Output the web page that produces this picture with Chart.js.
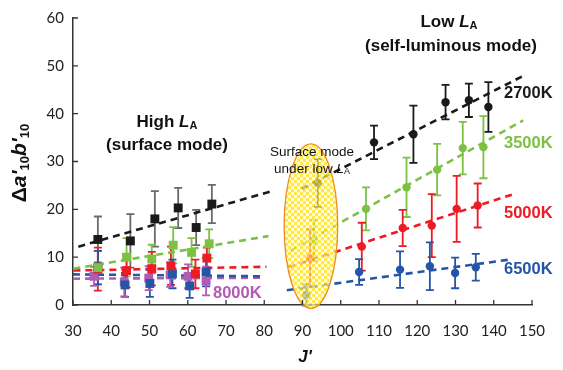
<!DOCTYPE html>
<html>
<head>
<meta charset="utf-8">
<script src="https://cdn.jsdelivr.net/npm/chart.js@4.4.0/dist/chart.umd.min.js"></script>
<style>
  html, body { margin: 0; padding: 0; background: #fff; }
</style>
</head>
<body>
<canvas id="myChart" width="563" height="370"></canvas>
<script>
// ticks des axes
const xTicks = [30, 40, 50, 60, 70, 80, 90, 100, 110, 120, 130, 140, 150];
const yTicks = [0, 10, 20, 30, 40, 50, 60];

// High LA (surface mode) - carrés
const hi2700J = [36.5, 45, 51.4, 57.5, 62.2, 66.3];
const hi2700Y = [13.7, 13.4, 18.0, 20.3, 16.2, 21.1];
const hi2700E = [4.8, 5.6, 5.8, 4.2, 3.7, 4.0];

const hi3500J = [36.5, 44, 50.6, 56.2, 61, 65.6];
const hi3500Y = [7.8, 10.0, 9.6, 12.5, 11.0, 12.8];
const hi3500E = [3.5, 4.0, 3.0, 3.8, 3.0, 3.0];

const hi5000J = [36.5, 44, 50.6, 55.6, 62, 65];
const hi5000Y = [7.5, 7.2, 7.6, 8.2, 6.5, 9.8];
const hi5000E = [4.5, 3.5, 3.5, 4.0, 3.0, 2.2];

const hi6500J = [36.5, 43.6, 50.1, 56, 60.5, 64.8];
const hi6500Y = [7.8, 4.2, 4.5, 6.5, 4.0, 6.9];
const hi6500E = [3.5, 2.5, 2.8, 3.0, 2.5, 3.0];

const hi8000J = [35.5, 43.4, 49.8, 55.4, 60.1, 64.8];
const hi8000Y = [6.0, 4.8, 5.6, 6.3, 6.0, 5.0];
const hi8000E = [2.0, 3.0, 2.5, 2.5, 2.5, 3.0];

// Low LA (self-luminous mode) - cercles
const lo2700J = [94, 108.7, 119, 127.4, 133.5, 138.6];
const lo2700Y = [25.5, 34.0, 35.7, 42.4, 42.8, 41.4];
const lo2700E = [5.0, 3.5, 6.0, 3.6, 3.5, 5.2];

const lo3500J = [93, 106.6, 117.2, 125.2, 131.9, 137.3];
const lo3500Y = [13.5, 20.1, 24.6, 28.3, 32.8, 33.0];
const lo3500E = [4.3, 4.5, 6.2, 5.4, 5.5, 6.5];

const lo5000J = [92, 105.5, 116.2, 123.8, 130.3, 135.8];
const lo5000Y = [9.8, 12.2, 16.1, 16.6, 20.1, 20.8];
const lo5000E = [6.0, 5.0, 3.8, 6.6, 6.9, 4.6];

const lo6500J = [91, 104.8, 115.5, 123.3, 129.9, 135.3];
const lo6500Y = [2.1, 6.9, 7.4, 8.1, 6.7, 7.9];
const lo6500E = [2.2, 2.7, 3.8, 5.0, 3.2, 2.8];

// droites de tendance (extrémités)
const trend2700Hi = [[31.4, 12.2], [81.5, 23.7]];
const trend2700Lo = [[89.8, 24.3], [147.7, 47.9]];
const trend3500Hi = [[30.1, 7.6], [81.1, 14.4]];
const trend3500Lo = [[86.7, 11.3], [147.7, 38.6]];
const trend5000Hi = [[30.1, 7.2], [80.6, 8.0]];
const trend5000Lo = [[86.3, 7.9], [146, 23.4]];
const trend6500Hi = [[30, 6.4], [80, 6.0]];
const trend6500Lo = [[85.9, 3.1], [144.2, 9.5]];
const trend8000Hi = [[30, 5.5], [80, 5.7]];

// zone "surface mode under low LA" (centre J, centre y, demi-axes)
const ellipseZone = [92.2, 16.5, 7.0, 17.2];

const BLACK = '#1a1a1a', GREEN = '#7cc142', RED = '#ed1c24', BLUE = '#2356a8', PURPLE = '#b15bb5';

const series = [
    { j: hi2700J, y: hi2700Y, e: hi2700E, color: BLACK, bar: '#6a6a6a', style: 'rect' },
    { j: hi3500J, y: hi3500Y, e: hi3500E, color: GREEN, bar: GREEN, style: 'rect' },
    { j: hi5000J, y: hi5000Y, e: hi5000E, color: RED, bar: RED, style: 'rect' },
    { j: hi6500J, y: hi6500Y, e: hi6500E, color: BLUE, bar: BLUE, style: 'rect' },
    { j: hi8000J, y: hi8000Y, e: hi8000E, color: PURPLE, bar: PURPLE, style: 'rect' },
    { j: lo2700J, y: lo2700Y, e: lo2700E, color: BLACK, bar: BLACK, style: 'circle' },
    { j: lo3500J, y: lo3500Y, e: lo3500E, color: GREEN, bar: GREEN, style: 'circle' },
    { j: lo5000J, y: lo5000Y, e: lo5000E, color: RED, bar: RED, style: 'circle' },
    { j: lo6500J, y: lo6500Y, e: lo6500E, color: BLUE, bar: BLUE, style: 'circle' }
];

const trends = [
    [trend2700Hi, BLACK], [trend2700Lo, BLACK],
    [trend3500Hi, GREEN], [trend3500Lo, GREEN],
    [trend5000Hi, RED], [trend5000Lo, RED],
    [trend6500Hi, BLUE], [trend6500Lo, BLUE],
    [trend8000Hi, PURPLE]
];

let datasets = [];
series.forEach(s => {
    datasets.push({
        type: 'scatter',
        data: s.j.map((v, i) => ({ x: v, y: s.y[i] })),
        pointStyle: s.style,
        pointRadius: s.style === 'rect' ? 6.3 : 4.2,
        backgroundColor: s.color,
        borderColor: s.color,
        borderWidth: 0,
        order: 1
    });
});
trends.forEach(t => {
    datasets.push({
        type: 'line',
        data: t[0].map(p => ({ x: p[0], y: p[1] })),
        borderColor: t[1],
        borderWidth: 2.6,
        borderDash: [7, 5],
        pointRadius: 0,
        fill: false,
        order: 2
    });
});

// motif en damier jaune pour l'ellipse
function makePattern(ctx) {
    const c = document.createElement('canvas');
    c.width = 6; c.height = 6;
    const p = c.getContext('2d');
    p.fillStyle = '#fffbd0';
    p.fillRect(0, 0, 6, 6);
    p.fillStyle = '#ffe000';
    p.fillRect(0, 0, 3, 3);
    p.fillRect(3, 3, 3, 3);
    return ctx.createPattern(c, 'repeat');
}

// texte avec indice (morceaux: [texte, police, decalage y])
function drawPieces(ctx, pieces, cx, cy) {
    let total = 0;
    pieces.forEach(p => { ctx.font = p[1]; total += ctx.measureText(p[0]).width; });
    let x = cx - total / 2;
    ctx.textAlign = 'left';
    ctx.textBaseline = 'middle';
    pieces.forEach(p => {
        ctx.font = p[1];
        ctx.fillText(p[0], x, cy + (p[2] || 0));
        x += ctx.measureText(p[0]).width;
    });
}

const extras = {
    id: 'extras',
    beforeDatasetsDraw(chart) {
        const ctx = chart.ctx;
        const xs = chart.scales.x, ys = chart.scales.y;
        // barres d'erreur
        ctx.save();
        series.forEach(s => {
            ctx.strokeStyle = s.bar;
            ctx.lineWidth = 1.8;
            s.j.forEach((v, i) => {
                const px = xs.getPixelForValue(v);
                const top = ys.getPixelForValue(s.y[i] + s.e[i]);
                const bot = ys.getPixelForValue(s.y[i] - s.e[i]);
                ctx.beginPath();
                ctx.moveTo(px, top); ctx.lineTo(px, bot);
                ctx.moveTo(px - 4, top); ctx.lineTo(px + 4, top);
                ctx.moveTo(px - 4, bot); ctx.lineTo(px + 4, bot);
                ctx.stroke();
            });
        });
        ctx.restore();
    },
    afterDatasetsDraw(chart) {
        const ctx = chart.ctx;
        const xs = chart.scales.x, ys = chart.scales.y;
        const area = chart.chartArea;

        // ellipse
        const cx = xs.getPixelForValue(ellipseZone[0]);
        const cy = ys.getPixelForValue(ellipseZone[1]);
        const rx = xs.getPixelForValue(ellipseZone[0] + ellipseZone[2]) - cx;
        const ry = cy - ys.getPixelForValue(ellipseZone[1] + ellipseZone[3]);
        ctx.save();
        ctx.beginPath();
        ctx.ellipse(cx, cy, rx, ry, 0, 0, Math.PI * 2);
        ctx.globalAlpha = 0.72;
        ctx.fillStyle = makePattern(ctx);
        ctx.fill();
        ctx.globalAlpha = 1;
        ctx.strokeStyle = '#f08a1c';
        ctx.lineWidth = 1.3;
        ctx.stroke();
        ctx.restore();

        // ticks vers l'intérieur
        ctx.save();
        ctx.strokeStyle = '#333';
        ctx.lineWidth = 1.3;
        ctx.beginPath();
        xTicks.forEach(v => {
            const px = xs.getPixelForValue(v);
            ctx.moveTo(px, area.bottom); ctx.lineTo(px, area.bottom - 5);
        });
        yTicks.forEach(v => {
            const py = ys.getPixelForValue(v);
            ctx.moveTo(area.left, py); ctx.lineTo(area.left + 5, py);
        });
        ctx.stroke();
        ctx.restore();

        // annotations
        ctx.save();
        ctx.fillStyle = '#111';
        const B = 'bold 17px "Liberation Sans", Arial, sans-serif';
        const BI = 'italic bold 17px "Liberation Sans", Arial, sans-serif';
        const BS = 'bold 11px "Liberation Sans", Arial, sans-serif';
        drawPieces(ctx, [['High ', B], ['L', BI], ['A', BS, 4]], 167, 122);
        drawPieces(ctx, [['(surface mode)', B]], 167, 145);
        drawPieces(ctx, [['Low ', B], ['L', BI], ['A', BS, 4]], 449, 22);
        drawPieces(ctx, [['(self-luminous mode)', B]], 451, 46);

        const R = '13.5px "Liberation Sans", Arial, sans-serif';
        const RI = 'italic 13.5px "Liberation Sans", Arial, sans-serif';
        const RS = '9px "Liberation Sans", Arial, sans-serif';
        drawPieces(ctx, [['Surface mode', R]], 312, 152);
        drawPieces(ctx, [['under low ', R], ['L', RI], ['A', RS, 3]], 312, 169);

        // étiquettes des séries
        ctx.font = 'bold 16.5px "Liberation Sans", Arial, sans-serif';
        ctx.textAlign = 'left';
        ctx.textBaseline = 'middle';
        ctx.fillStyle = BLACK; ctx.fillText('2700K', 504, 93);
        ctx.fillStyle = GREEN; ctx.fillText('3500K', 504, 143);
        ctx.fillStyle = RED; ctx.fillText('5000K', 504, 213);
        ctx.fillStyle = BLUE; ctx.fillText('6500K', 504, 269);
        ctx.fillStyle = PURPLE; ctx.fillText('8000K', 213, 293);

        // titre axe x
        ctx.fillStyle = '#111';
        drawPieces(ctx, [["J'", 'italic bold 17px "Liberation Sans", Arial, sans-serif']], 305, 357);

        // titre axe y (tourné)
        ctx.translate(20, 163);
        ctx.rotate(-Math.PI / 2);
        const T = 'bold 21px "Liberation Sans", Arial, sans-serif';
        const TI = 'italic bold 21px "Liberation Sans", Arial, sans-serif';
        const TS = 'bold 13px "Liberation Sans", Arial, sans-serif';
        drawPieces(ctx, [['Δ', T], ["a'", TI], ['10', TS, 5], ["b'", TI], ['10', TS, 5]], 0, 0);
        ctx.restore();
    }
};

const tickFont = { family: 'Lato, "Open Sans", sans-serif', size: 15 };

new Chart(document.getElementById('myChart').getContext('2d'), {
    type: 'scatter',
    data: { datasets: datasets },
    options: {
        responsive: false,
        animation: false,
        layout: { padding: { left: 0, right: 31, top: 15, bottom: 0 } },
        plugins: { legend: { display: false }, tooltip: { enabled: false } },
        scales: {
            x: {
                type: 'linear',
                min: 30, max: 150,
                afterFit: s => { s.height = 65; },
                afterBuildTicks: s => { s.ticks = xTicks.map(v => ({ value: v })); },
                ticks: { font: tickFont, color: '#222', padding: 17 },
                grid: { display: false, drawTicks: false },
                border: { display: true, color: '#333', width: 1.5 }
            },
            y: {
                type: 'linear',
                min: 0, max: 60,
                afterFit: s => { s.width = 73; },
                afterBuildTicks: s => { s.ticks = yTicks.map(v => ({ value: v })); },
                ticks: { font: tickFont, color: '#222', padding: 9 },
                grid: { display: false, drawTicks: false },
                border: { display: true, color: '#333', width: 1.5 }
            }
        }
    },
    plugins: [extras]
});
</script>
</body>
</html>
